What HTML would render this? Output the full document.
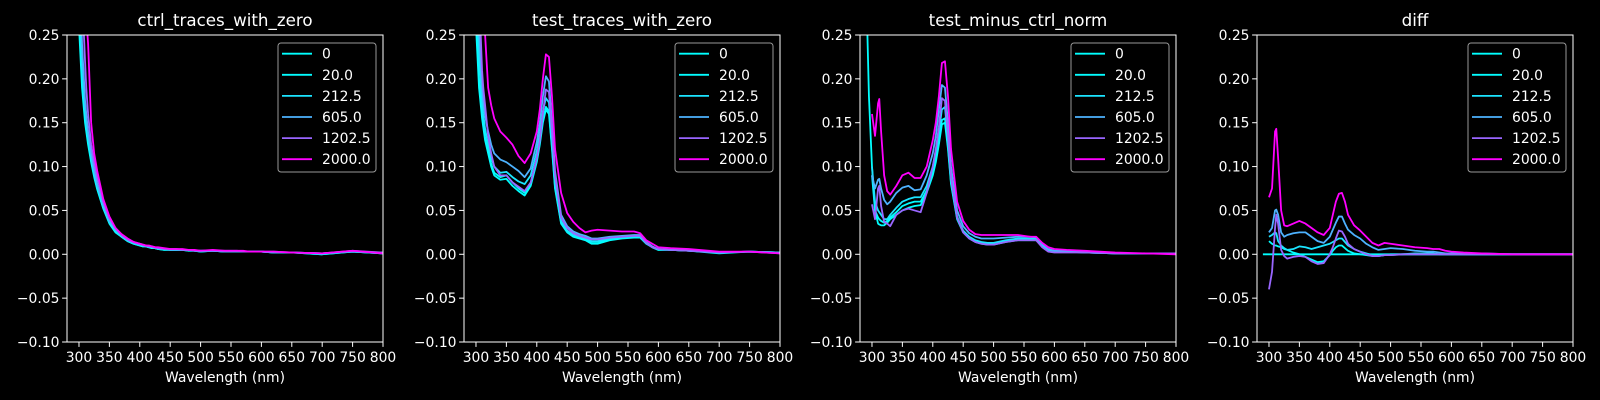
<!DOCTYPE html>
<html><head><meta charset="utf-8"><style>
html,body{margin:0;padding:0;background:#000;}
svg{display:block;}
text{font-family:"DejaVu Sans","Liberation Sans",sans-serif;fill:#fff;}
</style></head>
<body>
<svg id="fig" width="1600" height="400" viewBox="0 0 1600 400" xmlns="http://www.w3.org/2000/svg"></svg>
<script>
const wavelengths = [285,290,295,300,305,310,312,315,320,325,330,340,350,360,370,380,390,400,405,410,415,420,425,430,440,450,460,470,480,490,500,520,540,560,570,580,590,600,620,650,700,750,800];
const seriesLabels = ["0","20.0","212.5","605.0","1202.5","2000.0"];
const seriesColors = ["#00ffff","#03fcff","#1be4ff","#4db2ff","#9966ff","#ff00ff"];
const panelTitles = ["ctrl_traces_with_zero","test_traces_with_zero","test_minus_ctrl_norm","diff"];
const xTicks = [300,350,400,450,500,550,600,650,700,750,800];
const yTicks = [-0.10,-0.05,0.00,0.05,0.10,0.15,0.20,0.25];
const yTickLabels = ["\u22120.10","\u22120.05","0.00","0.05","0.10","0.15","0.20","0.25"];

const ctrl0 = [2,1.2,0.6,0.26,0.19,0.15,0.14,0.125,0.105,0.088,0.074,0.052,0.035,0.025,0.02,0.015,0.012,0.010,0.009,0.009,0.008,0.007,0.007,0.006,0.005,0.005,0.005,0.005,0.004,0.004,0.003,0.004,0.003,0.003,0.003,0.003,0.003,0.003,0.002,0.002,0.0,0.003,0.001];
const ctrl20 = [2,1.3,0.65,0.28,0.2,0.155,0.143,0.128,0.107,0.09,0.075,0.053,0.036,0.026,0.02,0.015,0.012,0.010,0.009,0.009,0.008,0.007,0.007,0.006,0.005,0.005,0.005,0.005,0.004,0.004,0.003,0.004,0.003,0.003,0.003,0.003,0.003,0.003,0.002,0.002,0.0,0.003,0.001];
const ctrl212 = [2,1.5,0.8,0.33,0.22,0.165,0.15,0.135,0.112,0.093,0.078,0.055,0.037,0.027,0.021,0.016,0.013,0.011,0.010,0.009,0.008,0.008,0.007,0.006,0.006,0.005,0.005,0.005,0.005,0.004,0.004,0.004,0.003,0.003,0.003,0.003,0.003,0.003,0.002,0.002,0.001,0.003,0.001];
const ctrl605 = [2,1.6,0.9,0.38,0.24,0.175,0.16,0.14,0.115,0.096,0.08,0.056,0.038,0.028,0.021,0.016,0.013,0.011,0.010,0.009,0.009,0.008,0.007,0.007,0.006,0.005,0.005,0.005,0.005,0.004,0.004,0.004,0.003,0.003,0.003,0.003,0.003,0.003,0.002,0.002,0.001,0.003,0.002];
const ctrl1202 = [2,1.8,1.1,0.5,0.3,0.22,0.19,0.16,0.125,0.105,0.088,0.06,0.041,0.03,0.022,0.017,0.014,0.012,0.011,0.010,0.009,0.009,0.008,0.007,0.006,0.006,0.006,0.005,0.005,0.004,0.004,0.004,0.004,0.004,0.003,0.003,0.003,0.003,0.003,0.002,0.001,0.004,0.002];
const ctrl2000 = [2,2,1.3,0.6,0.4,0.3,0.27,0.24,0.15,0.115,0.095,0.063,0.043,0.03,0.023,0.018,0.014,0.012,0.011,0.010,0.010,0.009,0.008,0.008,0.007,0.006,0.006,0.006,0.005,0.005,0.004,0.005,0.004,0.004,0.004,0.003,0.003,0.003,0.003,0.002,0.001,0.004,0.001];

const test0 = [2,1.2,0.6,0.26,0.19,0.155,0.145,0.13,0.115,0.1,0.09,0.085,0.086,0.078,0.072,0.067,0.078,0.105,0.125,0.15,0.165,0.16,0.12,0.075,0.035,0.025,0.02,0.018,0.016,0.012,0.012,0.016,0.018,0.019,0.019,0.012,0.008,0.005,0.005,0.004,0.001,0.003,0.002];
const test20 = [2,1.3,0.65,0.28,0.2,0.16,0.148,0.133,0.118,0.103,0.093,0.088,0.09,0.082,0.075,0.07,0.08,0.108,0.128,0.153,0.168,0.163,0.123,0.077,0.036,0.026,0.021,0.019,0.017,0.014,0.014,0.017,0.019,0.02,0.02,0.013,0.008,0.005,0.005,0.004,0.002,0.003,0.002];
const test212 = [2,1.5,0.8,0.33,0.23,0.175,0.16,0.143,0.125,0.11,0.1,0.093,0.094,0.088,0.083,0.08,0.09,0.118,0.138,0.163,0.178,0.173,0.13,0.08,0.038,0.027,0.022,0.02,0.018,0.015,0.015,0.018,0.02,0.021,0.021,0.013,0.008,0.006,0.005,0.004,0.002,0.003,0.002];
const test605 = [2,1.6,0.9,0.38,0.26,0.19,0.175,0.158,0.14,0.125,0.115,0.108,0.105,0.1,0.095,0.088,0.098,0.128,0.15,0.18,0.203,0.197,0.15,0.095,0.045,0.032,0.026,0.023,0.021,0.018,0.018,0.02,0.021,0.022,0.022,0.014,0.009,0.006,0.005,0.004,0.002,0.003,0.002];
const test1202 = [2,1.8,1.1,0.5,0.3,0.21,0.19,0.17,0.135,0.115,0.1,0.09,0.09,0.082,0.077,0.072,0.082,0.11,0.13,0.16,0.188,0.185,0.14,0.09,0.042,0.03,0.024,0.021,0.019,0.017,0.017,0.019,0.02,0.021,0.021,0.013,0.008,0.006,0.005,0.004,0.002,0.003,0.001];
const test2000 = [2,2,1.3,0.6,0.42,0.32,0.29,0.25,0.19,0.17,0.155,0.14,0.133,0.125,0.112,0.104,0.115,0.14,0.165,0.2,0.228,0.225,0.18,0.12,0.07,0.047,0.037,0.03,0.025,0.027,0.028,0.027,0.026,0.026,0.024,0.016,0.012,0.008,0.007,0.006,0.003,0.003,0.001];

const norm0 = [null,0.32,0.18,0.1,0.05,0.035,0.034,0.033,0.033,0.036,0.04,0.045,0.05,0.053,0.055,0.056,0.07,0.09,0.105,0.125,0.148,0.15,0.12,0.08,0.04,0.025,0.018,0.014,0.012,0.011,0.011,0.014,0.016,0.016,0.016,0.01,0.005,0.003,0.003,0.002,0.001,0.001,0.001];
const norm20 = [null,null,null,0.09,0.05,0.042,0.04,0.038,0.036,0.038,0.042,0.048,0.055,0.058,0.06,0.06,0.073,0.095,0.11,0.13,0.153,0.155,0.123,0.082,0.041,0.026,0.019,0.015,0.013,0.012,0.012,0.015,0.017,0.017,0.017,0.01,0.005,0.003,0.003,0.002,0.001,0.001,0.001];
const norm212 = [null,null,null,0.1,0.06,0.05,0.048,0.045,0.04,0.04,0.045,0.053,0.06,0.063,0.065,0.065,0.078,0.1,0.118,0.14,0.165,0.168,0.13,0.086,0.043,0.027,0.02,0.016,0.014,0.013,0.013,0.016,0.018,0.018,0.018,0.011,0.005,0.003,0.003,0.002,0.001,0.001,0.001];
const norm605 = [null,null,null,0.09,0.075,0.085,0.086,0.075,0.062,0.057,0.06,0.07,0.076,0.078,0.073,0.074,0.09,0.115,0.135,0.165,0.193,0.19,0.15,0.1,0.05,0.032,0.024,0.02,0.018,0.018,0.018,0.019,0.02,0.02,0.019,0.012,0.006,0.004,0.004,0.003,0.001,0.001,0.001];
const norm1202 = [null,null,null,0.057,0.04,0.075,0.078,0.055,0.037,0.035,0.032,0.045,0.05,0.052,0.05,0.048,0.07,0.1,0.12,0.145,0.178,0.175,0.135,0.088,0.042,0.025,0.018,0.014,0.012,0.011,0.011,0.014,0.016,0.016,0.016,0.008,0.003,0.002,0.002,0.002,0.001,0.001,0.001];
const norm2000 = [null,null,null,0.16,0.135,0.172,0.177,0.14,0.09,0.072,0.068,0.078,0.09,0.093,0.087,0.087,0.1,0.13,0.15,0.18,0.218,0.22,0.18,0.12,0.06,0.038,0.028,0.023,0.022,0.022,0.022,0.022,0.022,0.02,0.02,0.013,0.008,0.006,0.005,0.004,0.002,0.001,0];

const diff0 = [null,0,0,0,0,0,0,0,0,0,0,0,0,0,0,0,0,0,0,0,0,0,0,0,0,0,0,0,0,0,0,0,0,0,0,0,0,0,0,0,0,0,0];
const diff20 = [null,null,null,0.015,0.012,0.01,0.01,0.009,0.008,0.006,0.005,0.002,0.0,-0.003,-0.006,-0.009,-0.008,-0.001,0.004,0.008,0.01,0.01,0.007,0.004,0.001,0,-0.001,-0.002,-0.002,-0.001,-0.001,0,0,0,0,0,0,0,0,0,0,0,0];
const diff212 = [null,null,null,0.02,0.022,0.025,0.024,0.015,0.01,0.007,0.005,0.006,0.009,0.008,0.006,0.008,0.01,0.012,0.014,0.016,0.018,0.018,0.014,0.01,0.006,0.003,0.001,-0.001,-0.002,-0.001,0,0,0.001,0.001,0.001,0,0,0,0,0,0,0,0];
const diff605 = [null,null,null,0.025,0.03,0.05,0.051,0.045,0.025,0.02,0.022,0.024,0.025,0.025,0.02,0.015,0.013,0.02,0.028,0.036,0.043,0.043,0.035,0.028,0.022,0.018,0.012,0.008,0.005,0.006,0.007,0.006,0.004,0.003,0.003,0.002,0.001,0.001,0.001,0.001,0,0,0];
const diff1202 = [null,null,null,-0.04,-0.02,0.03,0.045,0.035,0.005,-0.002,-0.005,-0.003,-0.002,-0.003,-0.008,-0.011,-0.01,0,0.008,0.018,0.027,0.026,0.02,0.012,0.006,0.003,0,-0.002,-0.002,-0.001,-0.001,0,0,0,0,0,0,0,0,0,0,0,0];
const diff2000 = [null,null,null,0.065,0.075,0.14,0.143,0.11,0.05,0.033,0.032,0.035,0.038,0.035,0.03,0.025,0.022,0.03,0.045,0.06,0.069,0.07,0.06,0.045,0.033,0.027,0.02,0.013,0.01,0.013,0.012,0.01,0.008,0.007,0.006,0.006,0.004,0.003,0.002,0.001,0,0,0];

const panelSeries = [
  [ctrl0,ctrl20,ctrl212,ctrl605,ctrl1202,ctrl2000],
  [test0,test20,test212,test605,test1202,test2000],
  [norm0,norm20,norm212,norm605,norm1202,norm2000],
  [diff0,diff20,diff212,diff605,diff1202,diff2000]
];

const NS = "http://www.w3.org/2000/svg";
const svg = document.getElementById("fig");
const panelLefts = [67,464,860,1257];
const AX_W = 316, AX_TOP = 35, AX_H = 307;
const XMIN = 280.3, XMAX = 800, YMIN = -0.10, YMAX = 0.25;
function mk(tag, attrs, parent){ const e=document.createElementNS(NS,tag); for(const k in attrs) e.setAttribute(k,attrs[k]); (parent||svg).appendChild(e); return e; }

const defs = mk("defs",{});
panelTitles.forEach((title, p) => {
  const L = panelLefts[p];
  const xs = v => L + (v - XMIN) / (XMAX - XMIN) * AX_W;
  const ys = v => AX_TOP + (YMAX - v) / (YMAX - YMIN) * AX_H;
  const g = mk("g",{});
  
  
  const cp = mk("clipPath",{id:"clip"+p}, defs);
  mk("rect",{x:L,y:AX_TOP,width:AX_W,height:AX_H},cp);

  const t = mk("text",{x:L+AX_W/2,y:26,"text-anchor":"middle","font-size":"16.7"},g);
  t.textContent = title;
  
  

  xTicks.forEach(v => {
    const x = xs(v);
    const tk = mk("line",{x1:x,x2:x,y1:AX_TOP+AX_H,y2:AX_TOP+AX_H+4.9,stroke:"#fff","stroke-width":1},g);
    
    
    const lb = mk("text",{x:x,y:362,"text-anchor":"middle","font-size":"13.9"},g);
    lb.textContent = String(v);
    
    
  });
  yTicks.forEach((v,i) => {
    const y = ys(v);
    const tk = mk("line",{x1:L-4.9,x2:L,y1:y,y2:y,stroke:"#fff","stroke-width":1},g);
    
    
    const lb = mk("text",{x:L-7.5,y:y+5,"text-anchor":"end","font-size":"13.9"},g);
    lb.textContent = yTickLabels[i];
    
    
  });
  const xl = mk("text",{x:L+AX_W/2,y:382,"text-anchor":"middle","font-size":"13.9"},g);
  xl.textContent = "Wavelength (nm)";
  
  

  const lg = mk("g",{"clip-path":"url(#clip"+p+")"},g);
  panelSeries[p].forEach((vals, s) => {
    let d = "", pen = false;
    vals.forEach((v,i) => {
      if (v === null) { pen = false; return; }
      d += (pen ? "L" : "M") + xs(wavelengths[i]).toFixed(2) + "," + ys(v).toFixed(2);
      pen = true;
    });
    const path = mk("path",{d:d,fill:"none",stroke:seriesColors[s],"stroke-width":1.8,"stroke-linejoin":"round"},lg);
    
    
  });

  const frame = mk("rect",{x:L,y:AX_TOP,width:AX_W,height:AX_H,fill:"none",stroke:"#fff","stroke-width":1},g);
  
  

  const LX = L + AX_W - 105, LY = 43;
  const leg = mk("g",{},g);
  
  
  mk("rect",{x:LX,y:LY,width:98,height:129,rx:3,fill:"#000","fill-opacity":0.8,stroke:"#999","stroke-width":1},leg);
  seriesLabels.forEach((lab, s) => {
    const y = 53.7 + s*21.1;
    const e = mk("g",{},leg);
    
    
    mk("line",{x1:LX+4,x2:LX+34,y1:y,y2:y,stroke:seriesColors[s],"stroke-width":1.8},e);
    const tx = mk("text",{x:LX+44,y:y+5,"font-size":"13.9"},e);
    tx.textContent = lab;
  });
});
</script>
</body></html>
